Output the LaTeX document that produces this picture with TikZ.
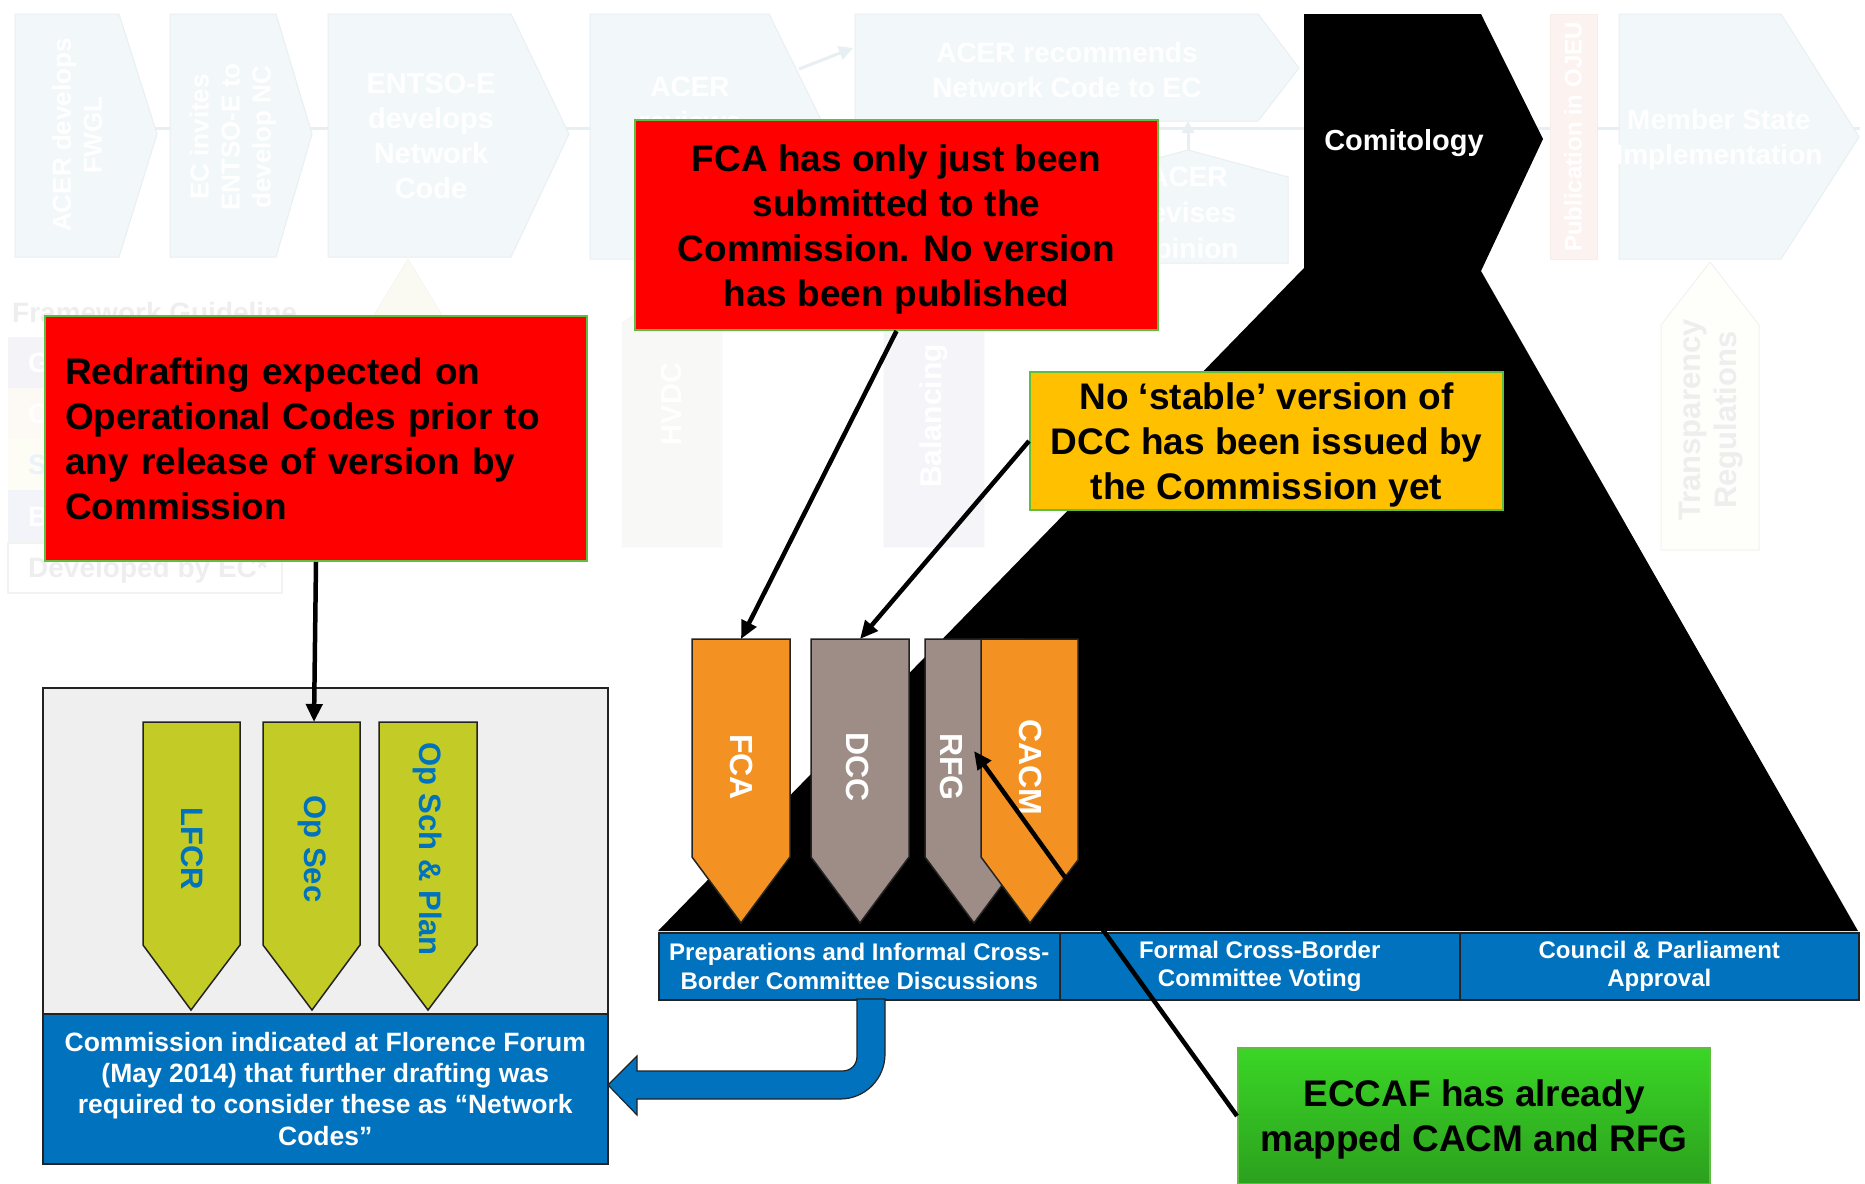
\documentclass[tikz,border=0pt]{standalone}
\usepackage{fontspec}
\setmainfont{Liberation Sans}
\usetikzlibrary{arrows.meta}
\newcommand\FSZ[2]{\fontsize{#1}{#2}\selectfont}
\definecolor{fadeblue}{RGB}{242,247,250}
\definecolor{fadeline}{RGB}{232,239,243}
\definecolor{cblue}{RGB}{0,114,190}
\definecolor{corange}{RGB}{243,146,35}
\definecolor{cgray}{RGB}{158,141,134}
\definecolor{cyg}{RGB}{195,204,38}
\definecolor{cred}{RGB}{255,0,0}
\definecolor{cyellow}{RGB}{255,192,0}
\definecolor{cborder}{RGB}{95,190,65}
\definecolor{boxgray}{RGB}{239,239,239}
\definecolor{outl}{RGB}{35,35,35}
\definecolor{fr1}{RGB}{244,244,248}
\definecolor{fr2}{RGB}{253,249,244}
\definecolor{fr3}{RGB}{253,253,246}
\definecolor{fr4}{RGB}{243,243,250}
\definecolor{frline}{RGB}{242,242,238}
\definecolor{fadetext}{RGB}{238,238,238}
\definecolor{gtop}{RGB}{58,214,38}
\definecolor{gbot}{RGB}{44,160,30}
\begin{document}
\begin{tikzpicture}[x=1pt,y=-1pt,
  fade/.style={fill=fadeblue, draw=fadeline, line width=1pt},
  fadetxt/.style={text=white, font=\bfseries\FSZ{28}{35}, align=center, inner sep=0pt},
  callout/.style={draw=cborder, line width=2pt, font=\bfseries\FSZ{37}{45}, text=black, align=center, inner sep=0pt},
  calltxt/.style={font=\bfseries\FSZ{37}{45}, text=black, align=center, inner sep=0pt},
  codeshape/.style={draw=outl, line width=1.5pt},
  codetxt/.style={text=white, font=\bfseries\FSZ{32}{38}, rotate=-90, inner sep=0pt},
  optxt/.style={text=cblue, font=\bfseries\FSZ{31}{36}, rotate=-90, inner sep=0pt},
  barbox/.style={fill=cblue, draw=outl, line width=1.5pt, text=white, font=\bfseries\FSZ{24}{28.5}, align=center, inner sep=0pt, anchor=north west},
  rowtxt/.style={anchor=west, text=white, font=\bfseries\FSZ{28}{34}, inner sep=0pt},
  arr/.style={line width=4.5pt, draw=black, -{Triangle[length=18pt,width=16pt]}}
]
\useasboundingbox (0,0) rectangle (1865,1183);
\fill[white] (0,0) rectangle (1865,1183);

% ---------- faded background process ----------
\draw[fadeline, line width=3pt] (15,128) -- (1860,128);
\draw[fade] (15,14) -- (119,14) -- (157,134) -- (119,257) -- (15,257) -- cycle;
\node[fadetxt, font=\bfseries\FSZ{26}{31}, rotate=90] (t1) at (77,135) {ACER develops\\FWGL};
\draw[fade] (170,14) -- (276,14) -- (312,134) -- (276,257) -- (170,257) -- cycle;
\node[fadetxt, font=\bfseries\FSZ{26}{31}, rotate=90] (t2) at (233,137) {EC invites\\ENTSO-E to\\develop NC};
\draw[fade] (328,14) -- (511,14) -- (569,134) -- (511,257) -- (328,257) -- cycle;
\node[fadetxt, font=\bfseries\FSZ{29}{35}] (t3) at (431,136) {ENTSO-E\\develops\\Network\\Code};
\draw[fade] (590,14) -- (769,14) -- (828,134) -- (769,259) -- (590,259) -- cycle;
\node[fadetxt] (t4) at (690,104) {ACER\\reviews};
\coordinate (revout) at (799,69);
\coordinate (recin) at (853,48);
\draw[fade] (855,14) -- (1258,14) -- (1299,68) -- (1258,121) -- (855,121) -- cycle;
\node[fadetxt] (t5) at (1067,70) {ACER recommends\\Network Code to EC};
\draw[fadeline, line width=3pt, -{Triangle[length=14pt,width=14pt]}] (revout) -- (recin);
\draw[fade] (1188,150) -- (1288,177) -- (1288,263) -- (1088,263) -- (1088,177) -- cycle;
\node[fadetxt, font=\bfseries\FSZ{28}{36}] (t6) at (1188,216) {ACER\\revises\\opinion};
\coordinate (revtop) at (1188,150);
\coordinate (recbot) at (1188,121);
\draw[fadeline, line width=3pt, -{Triangle[length=12pt,width=12pt]}] (revtop) -- (recbot);
\draw[fill={rgb,255:red,252;green,243;blue,241}, draw={rgb,255:red,248;green,236;blue,234}] (1550,14) rectangle (1597,259);
\node[fadetxt, font=\bfseries\FSZ{24}{28}, rotate=90] (t7) at (1573,137) {Publication in OJEU};
\draw[fade] (1619,14) -- (1781,14) -- (1859,137) -- (1781,259) -- (1619,259) -- cycle;
\node[fadetxt] (t8) at (1719,140) {Member State\\Implementation};
\draw[fill={rgb,255:red,254;green,254;blue,250}, draw=frline, line width=1pt] (1710,262) -- (1759,325) -- (1759,550) -- (1661,550) -- (1661,325) -- cycle;
\node[fadetxt, text=fadetext, font=\bfseries\FSZ{31}{36}, rotate=90] (t9) at (1711,420) {Transparency\\Regulations};
\draw[fill={rgb,255:red,248;green,248;blue,246}, draw={rgb,255:red,241;green,241;blue,239}] (622,323) -- (672,290) -- (722,323) -- (722,547) -- (622,547) -- cycle;
\node[fadetxt, font=\bfseries\FSZ{29}{35}, rotate=90] (t10) at (672,404) {HVDC};
\draw[fill={rgb,255:red,245;green,244;blue,249}, draw={rgb,255:red,239;green,238;blue,244}] (884,323) -- (934,290) -- (984,323) -- (984,547) -- (884,547) -- cycle;
\node[fadetxt, font=\bfseries\FSZ{30}{35}, rotate=90] (t11) at (934,416) {Balancing};
\draw[fill={rgb,255:red,250;green,250;blue,242}, draw={rgb,255:red,242;green,242;blue,236}] (408,259) -- (451,330) -- (451,540) -- (365,540) -- (365,330) -- cycle;
% faded table
\node[anchor=west, text=fadetext, font=\bfseries\FSZ{28}{34}, inner sep=0pt] (fg) at (12,312) {Framework Guideline};
\fill[fr1] (8,337) rectangle (282,388);
\fill[fr2] (8,388) rectangle (282,439);
\fill[fr3] (8,439) rectangle (282,490);
\fill[fr4] (8,490) rectangle (282,543);
\draw[frline, line width=2pt, fill=white] (8,543) rectangle (282,593);
\node[rowtxt] (g1) at (28,363) {G};
\node[rowtxt] (g2) at (28,414) {C};
\node[rowtxt, text={rgb,255:red,234;green,242;blue,250}] (g3) at (28,465) {S};
\node[rowtxt] (g4) at (28,517) {B};
\node[rowtxt, text=fadetext] (g5) at (28,570) {Developed by EC*};

% ---------- comitology black shape ----------
\fill[black] (1304,14) -- (1481,14) -- (1543,139) -- (1481,271) -- (1858,931) -- (658,931) -- (1304,268) -- cycle;
\node[text=white, font=\bfseries\FSZ{29}{34}, inner sep=0pt] (comit) at (1404,143) {Comitology};

% ---------- blue bar ----------
\node[barbox, minimum width=401pt, minimum height=67pt] (bar1) at (658,932) {Preparations and Informal Cross-\\Border Committee Discussions};
\node[barbox, minimum width=400pt, minimum height=67pt] (bar2) at (1059,932) {Formal Cross-Border\\Committee Voting};
\node[barbox, minimum width=399pt, minimum height=67pt] (bar3) at (1459,932) {Council \& Parliament\\Approval};

% ---------- code pentagons ----------
\draw[codeshape, fill=corange] (692,639) -- (790,639) -- (790,857) -- (741,923) -- (692,857) -- cycle;
\draw[codeshape, fill=cgray] (811,639) -- (909,639) -- (909,857) -- (860,923) -- (811,857) -- cycle;
\draw[codeshape, fill=cgray] (925,639) -- (1023,639) -- (1023,857) -- (974,923) -- (925,857) -- cycle;
\draw[codeshape, fill=corange] (981,639) -- (1078,639) -- (1078,860) -- (1030,923) -- (981,857) -- cycle;
\node[codetxt] (fca) at (742,767) {FCA};
\node[codetxt] (dcc) at (858,767) {DCC};
\node[codetxt] (rfg) at (952,767) {RFG};
\node[codetxt] (cacm) at (1031,767) {CACM};
\coordinate (fcatop) at (741,639);
\coordinate (dcctop) at (860,639);
\coordinate (rfgpt) at (974,751);

% ---------- left operational codes box ----------
\node[fill=boxgray, draw=outl, line width=1.5pt, minimum width=565pt, minimum height=326pt, anchor=north west, inner sep=0pt] (opbox) at (42,687) {};
\node[fill=cblue, draw=outl, line width=1.5pt, minimum width=565pt, minimum height=150pt, anchor=north west, inner sep=0pt, text=white, font=\bfseries\FSZ{26.5}{31.3}, align=center] (florence) at (42,1013) {Commission indicated at Florence Forum\\(May 2014) that further drafting was\\required to consider these as “Network\\Codes”};
\draw[codeshape, fill=cyg] (143,722) -- (240,722) -- (240,945) -- (191,1010) -- (143,945) -- cycle;
\draw[codeshape, fill=cyg] (263,722) -- (360,722) -- (360,945) -- (312,1010) -- (263,945) -- cycle;
\draw[codeshape, fill=cyg] (379,722) -- (477,722) -- (477,945) -- (428,1010) -- (379,945) -- cycle;
\node[optxt] (lfcr) at (192,849) {LFCR};
\node[optxt] (opsec) at (312,849) {Op Sec};
\node[optxt] (opsch) at (428,849) {Op Sch \& Plan};
\coordinate (opsectop) at (314,722);

% ---------- curved blue arrow ----------
\draw[fill=cblue, draw=outl, line width=1.2pt] (857,999) -- (857,1056) .. controls (857,1065) and (851,1071) .. (842,1071) -- (637,1071) -- (637,1056) -- (608,1085) -- (637,1115) -- (637,1099) -- (840,1099) .. controls (865,1099) and (885,1079) .. (885,1054) -- (885,999) -- cycle;

% ---------- callouts ----------
\node[callout, fill=cred, minimum width=542pt, minimum height=245pt, text width=502pt, align=left, anchor=north west] (r1) at (44,315) {Redrafting expected on\\Operational Codes prior to\\any release of version by\\Commission};
\node[callout, fill=cred, minimum width=523pt, minimum height=210pt, anchor=north west] (r2) at (634,119) {};
\node[calltxt] (r2t) at ([yshift=-4pt]r2.center) {FCA has only just been\\submitted to the\\Commission. No version\\has been published};
\node[callout, fill=cyellow, minimum width=473pt, minimum height=138pt, anchor=north west] (yel) at (1029,371) {};
\node[calltxt] (yelt) at ([yshift=-4pt]yel.center) {No ‘stable’ version of\\DCC has been issued by\\the Commission yet};
\node[callout, top color=gtop, bottom color=gbot, minimum width=472pt, minimum height=136pt, anchor=north west] (grn) at (1237,1047) {};
\node[calltxt] (grnt) at ([yshift=-3pt]grn.center) {ECCAF has already\\mapped CACM and RFG};

% ---------- arrows ----------
\draw[arr] (r1.south) -- (opsectop);
\draw[arr] (r2.south) -- (fcatop);
\draw[arr] (yel.west) -- (dcctop);
\draw[arr] (grn.west) -- (rfgpt);
\end{tikzpicture}
\end{document}
